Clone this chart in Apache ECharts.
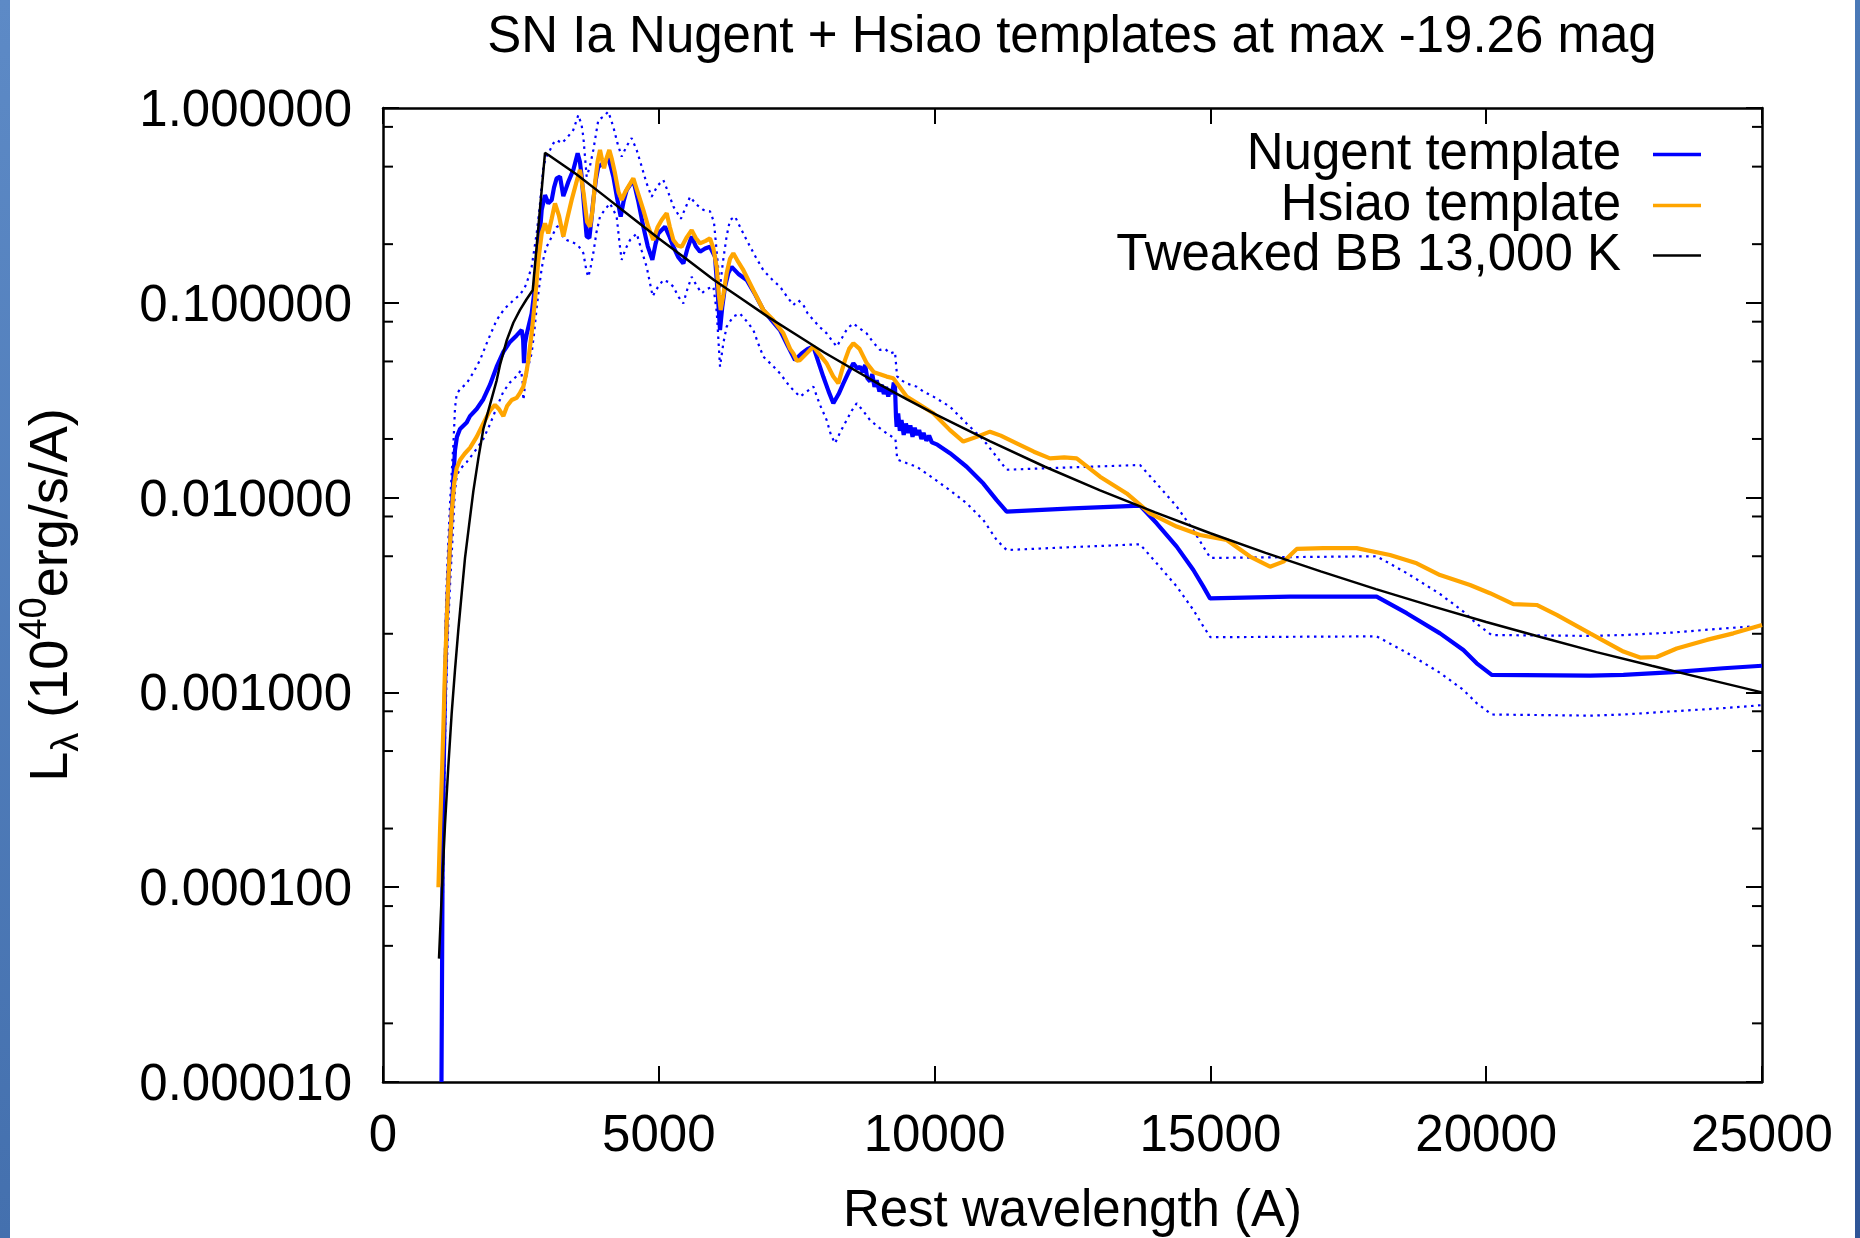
<!DOCTYPE html>
<html>
<head>
<meta charset="utf-8">
<title>SN Ia Nugent + Hsiao templates at max -19.26 mag</title>
<script src="https://cdn.jsdelivr.net/npm/echarts@6/dist/echarts.min.js"></script>
<style>
  html, body { margin: 0; padding: 0; background: #ffffff; }
  #chart { width: 1860px; height: 1238px; }
</style>
</head>
<body>
<div id="chart"></div>
<script>
// Rest wavelength (A) vs luminance L_lambda (1e40 erg/s/A)

// Nugent template at maximum light
const nugentSpectrum = [
  [1060,1e-5],[1080,1.2e-4],[1100,4e-4],[1125,1.1e-3],[1155,2.3e-3],[1185,3.8e-3],[1215,5.9e-3],[1245,8.3e-3],
  [1275,0.0125],[1305,0.0175],[1340,0.0205],[1396,0.0225],[1517,0.0243],[1577,0.0262],[1698,0.0285],[1819,0.032],
  [1940,0.038],[2061,0.047],[2182,0.056],[2302,0.063],[2423,0.068],[2514,0.0725],[2540,0.065],[2556,0.049],
  [2575,0.062],[2605,0.069],[2650,0.078],[2695,0.088],[2756,0.121],[2816,0.18],[2877,0.30],[2937,0.357],
  [2997,0.324],[3058,0.337],[3100,0.39],[3148,0.435],[3209,0.444],[3269,0.353],[3310,0.38],[3360,0.418],
  [3450,0.481],[3529,0.585],[3570,0.53],[3602,0.444],[3650,0.30],[3692,0.219],[3741,0.215],[3780,0.27],
  [3813,0.337],[3860,0.43],[3904,0.50],[3994,0.52],[4085,0.552],[4130,0.50],[4176,0.444],[4240,0.35],
  [4309,0.277],[4360,0.33],[4417,0.379],[4538,0.427],[4630,0.33],[4719,0.246],[4800,0.195],[4883,0.166],
  [4940,0.20],[4992,0.227],[5113,0.246],[5190,0.22],[5264,0.194],[5350,0.172],[5445,0.159],[5520,0.19],
  [5596,0.219],[5670,0.195],[5747,0.183],[5840,0.19],[5928,0.194],[6019,0.172],[6070,0.11],[6110,0.0725],
  [6150,0.095],[6200,0.121],[6260,0.142],[6321,0.153],[6450,0.14],[6593,0.131],[6750,0.11],[6895,0.0918],
  [7050,0.081],[7197,0.0725],[7340,0.06],[7469,0.0508],[7590,0.055],[7700,0.058],[7802,0.0596],[7900,0.049],
  [7983,0.0417],[8080,0.035],[8164,0.0305],[8260,0.034],[8346,0.0386],[8440,0.044],[8527,0.0489],[8600,0.046],
  [8648,0.047],[8700,0.044],[8740,0.048],[8780,0.041],[8829,0.0395],[8870,0.043],[8910,0.037],[8950,0.040],
  [9000,0.035],[9040,0.038],[9080,0.034],[9120,0.037],[9160,0.033],[9191,0.036],[9230,0.034],[9260,0.039],
  [9282,0.037],[9300,0.026],[9312,0.0231],[9340,0.027],[9370,0.022],[9400,0.025],[9440,0.021],[9480,0.024],
  [9520,0.0215],[9560,0.0235],[9600,0.0205],[9640,0.0228],[9675,0.021],[9720,0.0222],[9760,0.0200],[9800,0.0215],
  [9850,0.0196],[9900,0.0208],[9950,0.0192],[9977,0.0194],[10050,0.0187],[10279,0.0169],[10581,0.0144],
  [10884,0.0118],[11125,0.0097],[11306,0.00847],[12500,0.0088],[13724,0.0091],[14026,0.00738],[14389,0.0056],
  [14691,0.00425],[14872,0.00349],[14993,0.00304],[16443,0.0031],[18014,0.0031],[18558,0.00255],[19163,0.00201],
  [19586,0.00165],[19828,0.00141],[20100,0.00123],[21883,0.00122],[22487,0.00123],[23393,0.00127],
  [24300,0.00133],[25000,0.00137]
];

// Upper envelope of the Nugent template (dotted)
const nugentUpper = [
  [1060,1.6e-5],[1080,2e-4],[1100,6.5e-4],[1125,1.8e-3],[1155,3.7e-3],[1185,6.0e-3],[1215,9.3e-3],[1245,0.0133],
  [1275,0.0185],[1306,0.029],[1336,0.034],[1396,0.036],[1517,0.0386],[1640,0.044],[1758,0.0508],[1900,0.064],
  [2061,0.0816],[2200,0.093],[2363,0.103],[2450,0.108],[2544,0.116],[2600,0.125],[2695,0.153],[2786,0.227],
  [2850,0.33],[2907,0.50],[2960,0.56],[3028,0.609],[3090,0.66],[3148,0.685],[3240,0.66],[3330,0.70],
  [3450,0.771],[3541,0.92],[3600,0.82],[3632,0.71],[3692,0.444],[3750,0.50],[3813,0.609],[3904,0.868],
  [3990,0.90],[4085,0.957],[4176,0.80],[4250,0.66],[4327,0.563],[4420,0.64],[4508,0.70],[4599,0.609],
  [4690,0.50],[4780,0.41],[4870,0.35],[4980,0.40],[5082,0.427],[5170,0.37],[5264,0.312],[5400,0.27],
  [5490,0.31],[5566,0.35],[5680,0.32],[5807,0.30],[5928,0.295],[6000,0.26],[6060,0.17],[6110,0.12],
  [6160,0.16],[6230,0.22],[6291,0.266],[6382,0.277],[6490,0.24],[6593,0.21],[6740,0.175],[6895,0.147],
  [7050,0.132],[7197,0.121],[7320,0.108],[7439,0.0975],[7530,0.103],[7621,0.0975],[7700,0.088],[7802,0.0816],
  [7920,0.075],[8043,0.0697],[8140,0.064],[8225,0.0596],[8320,0.066],[8420,0.074],[8527,0.0783],[8640,0.074],
  [8768,0.0697],[8880,0.063],[9010,0.0573],[9100,0.058],[9200,0.055],[9282,0.056],[9320,0.042],[9400,0.040],
  [9500,0.0385],[9675,0.0371],[9800,0.035],[9977,0.033],[10279,0.0293],[10581,0.024],[10884,0.0198],
  [11125,0.0162],[11306,0.0139],[12500,0.0143],[13724,0.0147],[14026,0.0118],[14389,0.009],[14691,0.0068],
  [14872,0.0056],[15000,0.0049],[16500,0.00495],[18014,0.0050],[18558,0.0041],[19163,0.0032],[19586,0.0026],
  [19828,0.00225],[20100,0.00197],[21883,0.00195],[22487,0.00197],[23393,0.00203],[24300,0.00213],[25000,0.0022]
];

// Lower envelope of the Nugent template (dotted)
const nugentLower = [
  [1062,1e-5],[1085,8e-5],[1105,2.7e-4],[1130,7e-4],[1160,1.45e-3],[1190,2.5e-3],[1220,3.8e-3],[1250,5.4e-3],
  [1280,8e-3],[1305,0.0109],[1340,0.013],[1396,0.014],[1517,0.0152],[1698,0.0178],[1819,0.020],[1940,0.0238],
  [2061,0.029],[2182,0.035],[2302,0.039],[2423,0.042],[2500,0.045],[2530,0.040],[2544,0.0317],[2560,0.034],
  [2575,0.039],[2640,0.048],[2695,0.055],[2740,0.070],[2786,0.0944],[2830,0.12],[2877,0.15],[2920,0.175],
  [2967,0.194],[3028,0.21],[3088,0.227],[3150,0.245],[3209,0.25],[3270,0.215],[3330,0.21],[3420,0.205],
  [3511,0.20],[3580,0.19],[3632,0.18],[3690,0.145],[3722,0.136],[3760,0.15],[3813,0.18],[3870,0.23],
  [3934,0.277],[4020,0.30],[4115,0.324],[4176,0.30],[4236,0.277],[4290,0.20],[4327,0.166],[4400,0.19],
  [4478,0.21],[4599,0.227],[4690,0.185],[4780,0.153],[4889,0.108],[4980,0.12],[5082,0.131],[5170,0.128],
  [5264,0.121],[5350,0.108],[5445,0.0993],[5520,0.118],[5596,0.136],[5690,0.122],[5777,0.112],[5880,0.118],
  [5990,0.121],[6050,0.09],[6110,0.047],[6170,0.062],[6230,0.0754],[6350,0.085],[6472,0.088],[6600,0.080],
  [6714,0.0725],[6800,0.062],[6895,0.0529],[7050,0.048],[7197,0.0434],[7380,0.037],[7560,0.033],[7680,0.035],
  [7802,0.0371],[7920,0.030],[8043,0.025],[8120,0.021],[8194,0.019],[8300,0.022],[8406,0.025],[8500,0.028],
  [8587,0.0305],[8700,0.028],[8829,0.025],[8980,0.023],[9131,0.0214],[9290,0.020],[9320,0.016],[9342,0.0156],
  [9500,0.015],[9675,0.0144],[9977,0.01256],[10279,0.0109],[10581,0.00935],[10884,0.00767],[11125,0.00606],
  [11306,0.00538],[12500,0.00557],[13724,0.00576],[14026,0.0046],[14389,0.0035],[14691,0.00265],[14872,0.00218],
  [15000,0.00192],[16500,0.00193],[18014,0.00194],[18558,0.0016],[19163,0.00126],[19586,0.00103],[19828,0.00088],
  [20100,0.00077],[21883,0.00076],[22487,0.00077],[23393,0.0008],[24300,0.00083],[25000,0.00086]
];

// Hsiao template at maximum light
const hsiaoSpectrum = [
  [1005,1.0e-4],[1035,2.0e-4],[1064,3.5e-4],[1094,6.5e-4],[1124,1.32e-3],[1155,2.3e-3],[1185,3.77e-3],
  [1215,5.8e-3],[1245,8.3e-3],[1290,0.0118],[1336,0.0142],[1396,0.0156],[1480,0.0168],[1577,0.0180],
  [1698,0.0205],[1819,0.0240],[1940,0.0280],[2030,0.0299],[2100,0.0285],[2182,0.0262],[2250,0.0295],
  [2333,0.0317],[2423,0.0325],[2484,0.0345],[2544,0.0371],[2600,0.044],[2635,0.0508],[2695,0.0697],
  [2756,0.103],[2816,0.166],[2877,0.227],[2937,0.256],[2997,0.227],[3058,0.27],[3118,0.324],[3190,0.28],
  [3269,0.219],[3340,0.27],[3420,0.337],[3500,0.41],[3571,0.481],[3640,0.36],[3700,0.26],[3753,0.246],
  [3800,0.30],[3843,0.41],[3890,0.53],[3934,0.609],[3970,0.545],[4007,0.49],[4050,0.55],[4103,0.609],
  [4150,0.545],[4206,0.462],[4270,0.37],[4327,0.337],[4390,0.37],[4448,0.395],[4538,0.435],[4630,0.36],
  [4719,0.30],[4810,0.245],[4901,0.21],[4980,0.245],[5052,0.266],[5143,0.288],[5200,0.245],[5264,0.21],
  [5340,0.197],[5415,0.194],[5500,0.215],[5596,0.236],[5670,0.215],[5747,0.202],[5850,0.208],[5928,0.214],
  [5990,0.19],[6049,0.153],[6090,0.11],[6122,0.0918],[6170,0.11],[6230,0.1417],[6290,0.168],[6351,0.1795],
  [6440,0.162],[6533,0.147],[6714,0.116],[6895,0.0918],[7076,0.0816],[7258,0.0697],[7380,0.058],[7439,0.055],
  [7500,0.0505],[7560,0.0508],[7681,0.055],[7802,0.0596],[7920,0.054],[8043,0.0489],[8160,0.042],[8255,0.0386],
  [8320,0.045],[8376,0.0508],[8450,0.058],[8527,0.062],[8640,0.058],[8768,0.049],[8900,0.044],[9010,0.043],
  [9131,0.0418],[9251,0.041],[9493,0.033],[9977,0.0271],[10279,0.0222],[10521,0.0194],[10763,0.0205],
  [11004,0.0218],[11200,0.0208],[11488,0.019],[11800,0.0172],[12092,0.0159],[12350,0.0161],[12576,0.0159],
  [12999,0.0128],[13483,0.0105],[13906,0.0083],[14389,0.0071],[14812,0.00643],[15296,0.00606],[15719,0.00498],
  [16081,0.00442],[16323,0.00469],[16565,0.00545],[17047,0.0055],[17651,0.0055],[18256,0.00507],[18739,0.0046],
  [19163,0.0040],[19707,0.00356],[20069,0.00323],[20492,0.00284],[20915,0.00281],[21278,0.0025],[21883,0.00201],
  [22487,0.00162],[22789,0.00151],[23091,0.00152],[23454,0.00168],[23998,0.00186],[24481,0.00201],[25000,0.00222]
];

// Tweaked 13,000 K blackbody
const blackbody = [
  [1015,4.3e-5],[1070,1.0e-4],[1124,2.1e-4],[1185,4.2e-4],[1245,7.8e-4],[1305,1.3e-3],[1366,2.1e-3],
  [1430,3.3e-3],[1487,4.9e-3],[1560,7.2e-3],[1638,0.0108],[1730,0.0160],[1819,0.0225],[1940,0.030],
  [2061,0.040],[2121,0.048],[2242,0.064],[2363,0.079],[2484,0.092],[2600,0.104],[2714,0.116],[2937,0.588],
  [3000,0.574],[3500,0.458],[4000,0.356],[4500,0.276],[5000,0.214],[5500,0.168],[6000,0.131],[6500,0.105],
  [7000,0.0839],[7500,0.0683],[8000,0.0556],[8500,0.0460],[9000,0.0381],[9500,0.0319],[10000,0.0269],
  [11000,0.0195],[12000,0.0144],[13000,0.0109],[14000,0.0084],[15000,0.00656],[16000,0.00520],[17000,0.00418],
  [18000,0.00339],[19000,0.00278],[20000,0.00230],[21000,0.00192],[22000,0.00161],[23000,0.00137],
  [24000,0.00117],[25000,0.00100]
];

// Minor tick positions on the logarithmic luminance axis
const minorTickValues = [
  2e-5, 5e-5, 8e-5, 2e-4, 5e-4, 8e-4, 2e-3, 5e-3, 8e-3, 2e-2, 5e-2, 8e-2, 0.2, 0.5, 0.8
];

const legendNames = ['Nugent template', 'Hsiao template', 'Tweaked BB 13,000 K'];

const FONT = '"Liberation Sans", Arial, Helvetica, sans-serif';
const FS = 51;
const BLUE = '#0000ff';
const ORANGE = '#ffa500';

const chart = echarts.init(document.getElementById('chart'), null, { renderer: 'canvas' });

const sharedX = {
  type: 'value', min: 0, max: 25000, interval: 5000,
  splitLine: { show: false },
  axisLine: { show: true, onZero: false, lineStyle: { color: '#000', width: 2.5 } },
  axisTick: { show: true, inside: true, length: 16, lineStyle: { color: '#000', width: 2 } }
};
const sharedY = {
  type: 'log', logBase: 10, min: 1e-5, max: 1, splitNumber: 5,
  splitLine: { show: false },
  axisLine: { show: true, onZero: false, lineStyle: { color: '#000', width: 2.5 } },
  axisTick: { show: true, inside: true, length: 16, lineStyle: { color: '#000', width: 2 } }
};

function lineSeries(name, data, color, width, type, z) {
  return {
    name: name, type: 'line', data: data,
    xAxisIndex: 0, yAxisIndex: 0,
    showSymbol: false, symbol: 'none', smooth: false,
    lineStyle: { color: color, width: width, type: type || 'solid' },
    itemStyle: { color: color },
    z: z, silent: true
  };
}

const option = {
  animation: false,
  backgroundColor: '#ffffff',
  title: {
    text: 'SN Ia Nugent + Hsiao templates at max -19.26 mag',
    left: 1067, top: 7, textAlign: 'center',
    textStyle: { fontFamily: FONT, fontSize: FS, fontWeight: 'normal', color: '#000' }
  },
  legend: legendNames.map(function (name, i) {
    return {
      data: [{ name: name, icon: 'rect' }],
      right: 154, top: [124, 175, 225][i],
      align: 'right', orient: 'horizontal',
      itemWidth: 48, itemHeight: i === 2 ? 2.5 : 3.5, itemGap: 0,
      selectedMode: false,
      textStyle: { fontFamily: FONT, fontSize: FS, color: '#000', padding: [0, 27, 0, 0] }
    };
  }),
  grid: {
    left: 383, top: 108, width: 1379, height: 974,
    containLabel: false, outerBoundsMode: 'none'
  },
  xAxis: [
    Object.assign({}, sharedX, {
      position: 'bottom',
      name: 'Rest wavelength (A)', nameLocation: 'middle', nameGap: 104,
      nameTextStyle: { fontFamily: FONT, fontSize: FS, color: '#000' },
      axisLabel: {
        fontFamily: FONT, fontSize: FS, color: '#000', margin: 29,
        formatter: function (v) { return String(v); }
      }
    }),
    Object.assign({}, sharedX, { position: 'top', axisLabel: { show: false } })
  ],
  yAxis: [
    Object.assign({}, sharedY, {
      position: 'left',
      name: '{n|L}{sub|λ}{n| (10}{sup|40}{n|erg/s/A)}',
      nameLocation: 'middle', nameRotate: 90, nameGap: 296,
      nameTextStyle: {
        fontFamily: FONT, fontSize: 54, color: '#000',
        rich: {
          n: { fontFamily: FONT, fontSize: 54, color: '#000', lineHeight: 70 },
          sub: { fontFamily: FONT, fontSize: 38, color: '#000', lineHeight: 38, verticalAlign: 'bottom' },
          sup: { fontFamily: FONT, fontSize: 38, color: '#000', lineHeight: 38, verticalAlign: 'top' }
        }
      },
      axisLabel: {
        fontFamily: FONT, fontSize: FS, color: '#000', margin: 31,
        formatter: function (v) { return '{t|' + Number(v).toFixed(6) + '}'; },
        rich: {
          t: { fontFamily: FONT, fontSize: FS, color: '#000', lineHeight: 60, padding: [8, 0, 0, 0] }
        }
      }
    }),
    Object.assign({}, sharedY, { position: 'right', axisLabel: { show: false } })
  ],
  series: [
    lineSeries('Nugent upper', nugentUpper, BLUE, 2.2, [2.5, 4.5], 2),
    lineSeries('Nugent lower', nugentLower, BLUE, 2.2, [2.5, 4.5], 2),
    lineSeries('Nugent template', nugentSpectrum, BLUE, 4.2, 'solid', 3),
    lineSeries('Hsiao template', hsiaoSpectrum, ORANGE, 4.2, 'solid', 4),
    lineSeries('Tweaked BB 13,000 K', blackbody, '#000000', 2.5, 'solid', 5),
    {
      // minor ticks drawn inward on both vertical frame edges
      name: 'minor ticks', type: 'custom', silent: true, clip: false, z: 6,
      xAxisIndex: 0, yAxisIndex: 0,
      data: minorTickValues.map(function (v) { return [0, v]; }),
      renderItem: function (params, api) {
        const y = api.coord([0, api.value(1)])[1];
        const cs = params.coordSys;
        const len = 10;
        return {
          type: 'group',
          children: [
            { type: 'line', shape: { x1: cs.x, y1: y, x2: cs.x + len, y2: y },
              style: { stroke: '#000', lineWidth: 2 } },
            { type: 'line', shape: { x1: cs.x + cs.width - len, y1: y, x2: cs.x + cs.width, y2: y },
              style: { stroke: '#000', lineWidth: 2 } }
          ]
        };
      }
    }
  ],
  graphic: [
    { type: 'rect', left: 0, top: 0, z: -10, silent: true,
      shape: { width: 10, height: 1238 },
      style: { fill: new echarts.graphic.LinearGradient(0, 0, 0, 1, [
        { offset: 0, color: '#5d8ac6' }, { offset: 1, color: '#4470ae' }]) } },
    { type: 'rect', left: 1855, top: 0, z: -10, silent: true,
      shape: { width: 5, height: 1238 },
      style: { fill: new echarts.graphic.LinearGradient(0, 0, 0, 1, [
        { offset: 0, color: '#4a79b7' }, { offset: 1, color: '#2f5597' }]) } }
  ]
};

chart.setOption(option);
</script>
</body>
</html>
